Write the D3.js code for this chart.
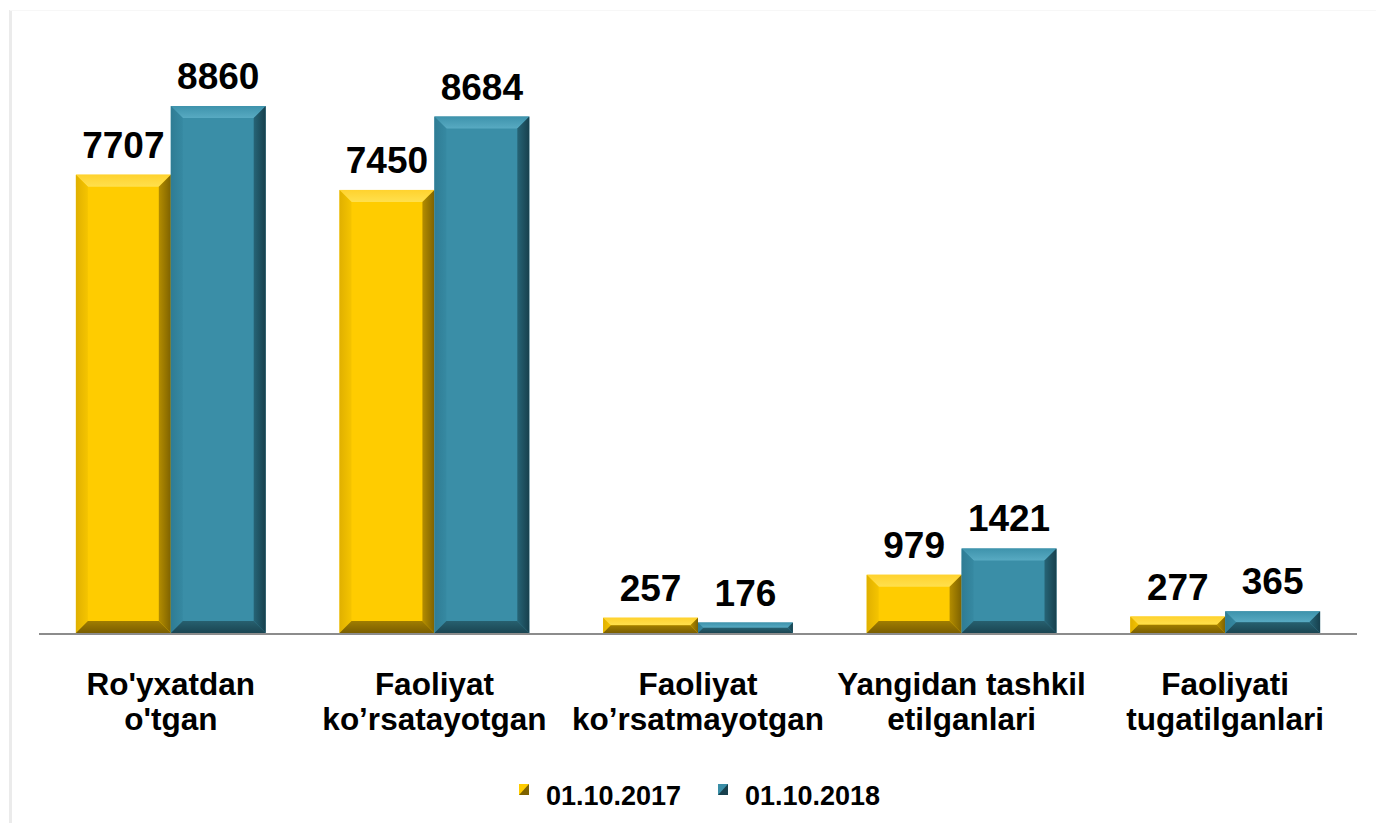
<!DOCTYPE html>
<html>
<head>
<meta charset="utf-8">
<script src="https://cdn.jsdelivr.net/npm/d3@7"></script>
<style>
  body { margin: 0; background: #fff; }
  svg { display: block; font-family: "Liberation Sans", Arial, sans-serif; }
</style>
</head>
<body>
<div id="svgContainer"></div>
<script>
var categories = [
    ["Ro'yxatdan", "o'tgan"],
    ["Faoliyat", "ko’rsatayotgan"],
    ["Faoliyat", "ko’rsatmayotgan"],
    ["Yangidan tashkil", "etilganlari"],
    ["Faoliyati", "tugatilganlari"]
];
var seriesNames = ["01.10.2017", "01.10.2018"];
var values2017 = [7707, 7450, 257, 979, 277];
var values2018 = [8860, 8684, 176, 1421, 365];

var width = 1376, height = 823;

// bevel colours: face, top (edge->inner), left, right, bottom
var palettes = [
    { face: "#FFCC00", top: ["#FFD22E", "#FFE04D"], left: ["#E0B000", "#F5C400"], right: ["#7E6200", "#B48D00"], bottom: ["#7A5E00", "#A07D00"] },
    { face: "#3A8EA7", top: ["#3E93AC", "#58AAC2"], left: ["#2F7C94", "#3689A2"], right: ["#17404D", "#266476"], bottom: ["#1A4552", "#27606F"] }
];

var svg = d3.select("#svgContainer").append("svg")
    .attr("width", width)
    .attr("height", height);

var defs = svg.append("defs");
function grad(id, c, x1, y1, x2, y2) {
    var lg = defs.append("linearGradient").attr("id", id)
        .attr("x1", x1).attr("y1", y1).attr("x2", x2).attr("y2", y2);
    lg.append("stop").attr("offset", "0%").attr("stop-color", c[0]);
    lg.append("stop").attr("offset", "100%").attr("stop-color", c[1]);
}
palettes.forEach(function(p, i) {
    grad("top" + i, p.top, 0, 0, 0, 1);
    grad("left" + i, p.left, 0, 0, 1, 0);
    grad("right" + i, p.right, 1, 0, 0, 0);
    grad("bottom" + i, p.bottom, 0, 1, 0, 0);
});

// faint frame (left shadow + top line)
svg.append("rect").attr("x", 9).attr("y", 10).attr("width", 3).attr("height", height - 10).attr("fill", "#ebebeb");
svg.append("rect").attr("x", 10).attr("y", 10).attr("width", width - 10).attr("height", 1).attr("fill", "#f7f7f7");

var keys = categories.map(function(d) { return d.join(" "); });

var x0 = d3.scaleBand()
    .domain(keys)
    .range([39, 1357])
    .paddingInner(0.28)
    .paddingOuter(0.14);

var x1 = d3.scaleBand()
    .domain([0, 1])
    .range([0, x0.bandwidth()]);

var y = d3.scaleLinear()
    .domain([0, 9500])
    .range([633, 68]);

var data = [];
keys.forEach(function(k, i) {
    data.push({ key: k, s: 0, v: values2017[i] });
    data.push({ key: k, s: 1, v: values2018[i] });
});

var bars = svg.selectAll("g.bar")
    .data(data)
    .enter().append("g")
    .attr("class", "bar");

bars.each(function(d) {
    var g = d3.select(this);
    var p = palettes[d.s];
    var xl = x0(d.key) + x1(d.s), xr = xl + x1.bandwidth();
    var yt = y(d.v), yb = y(0);
    var h = yb - yt;
    var b = Math.min(12, h / 2, (xr - xl) / 2);
    var pts = function(a) { return a.map(function(q) { return q.join(","); }).join(" "); };
    g.append("rect").attr("x", xl).attr("y", yt).attr("width", xr - xl).attr("height", h).attr("fill", p.face);
    g.append("polygon").attr("fill", "url(#top" + d.s + ")")
        .attr("points", pts([[xl, yt], [xr, yt], [xr - b, yt + b], [xl + b, yt + b]]));
    g.append("polygon").attr("fill", "url(#left" + d.s + ")")
        .attr("points", pts([[xl, yt], [xl + b, yt + b], [xl + b, yb - b], [xl, yb]]));
    g.append("polygon").attr("fill", "url(#right" + d.s + ")")
        .attr("points", pts([[xr, yt], [xr, yb], [xr - b, yb - b], [xr - b, yt + b]]));
    g.append("polygon").attr("fill", "url(#bottom" + d.s + ")")
        .attr("points", pts([[xl, yb], [xl + b, yb - b], [xr - b, yb - b], [xr, yb]]));
});

// value labels
svg.selectAll("text.val")
    .data(data)
    .enter().append("text")
    .attr("class", "val")
    .attr("x", function(d) { return x0(d.key) + x1(d.s) + x1.bandwidth() / 2; })
    .attr("y", function(d) { return y(d.v) - 17; })
    .attr("text-anchor", "middle")
    .attr("font-size", 37)
    .attr("font-weight", "bold")
    .attr("fill", "#000")
    .text(function(d) { return d.v; });

// baseline
svg.append("line")
    .attr("x1", 39).attr("x2", 1357)
    .attr("y1", y(0) + 1).attr("y2", y(0) + 1)
    .attr("stroke", "#8c8c8c")
    .attr("stroke-width", 2);

// category labels
var cat = svg.selectAll("text.cat")
    .data(categories)
    .enter().append("text")
    .attr("class", "cat")
    .attr("text-anchor", "middle")
    .attr("font-size", 31.5)
    .attr("font-weight", "bold")
    .attr("fill", "#000");
cat.selectAll("tspan")
    .data(function(d, i) { return d.map(function(t) { return { t: t, k: keys[i] }; }); })
    .enter().append("tspan")
    .attr("x", function(d) { return x0(d.k) + x0.bandwidth() / 2; })
    .attr("y", function(d, j) { return 695 + j * 35; })
    .text(function(d) { return d.t; });

// legend
var legendX = [519, 718];
var legend = svg.selectAll("g.legend")
    .data(seriesNames)
    .enter().append("g")
    .attr("class", "legend")
    .attr("transform", function(d, i) { return "translate(" + legendX[i] + ",784)"; });
legend.append("rect")
    .attr("width", 10).attr("height", 11)
    .attr("fill", function(d, i) { return palettes[i].right[0]; });
legend.append("polygon")
    .attr("points", "0,0 10,0 0,11")
    .attr("fill", function(d, i) { return palettes[i].face; });
legend.append("text")
    .attr("x", 27)
    .attr("y", 21)
    .attr("font-size", 27)
    .attr("font-weight", "bold")
    .attr("fill", "#000")
    .text(function(d) { return d; });
</script>
</body>
</html>
